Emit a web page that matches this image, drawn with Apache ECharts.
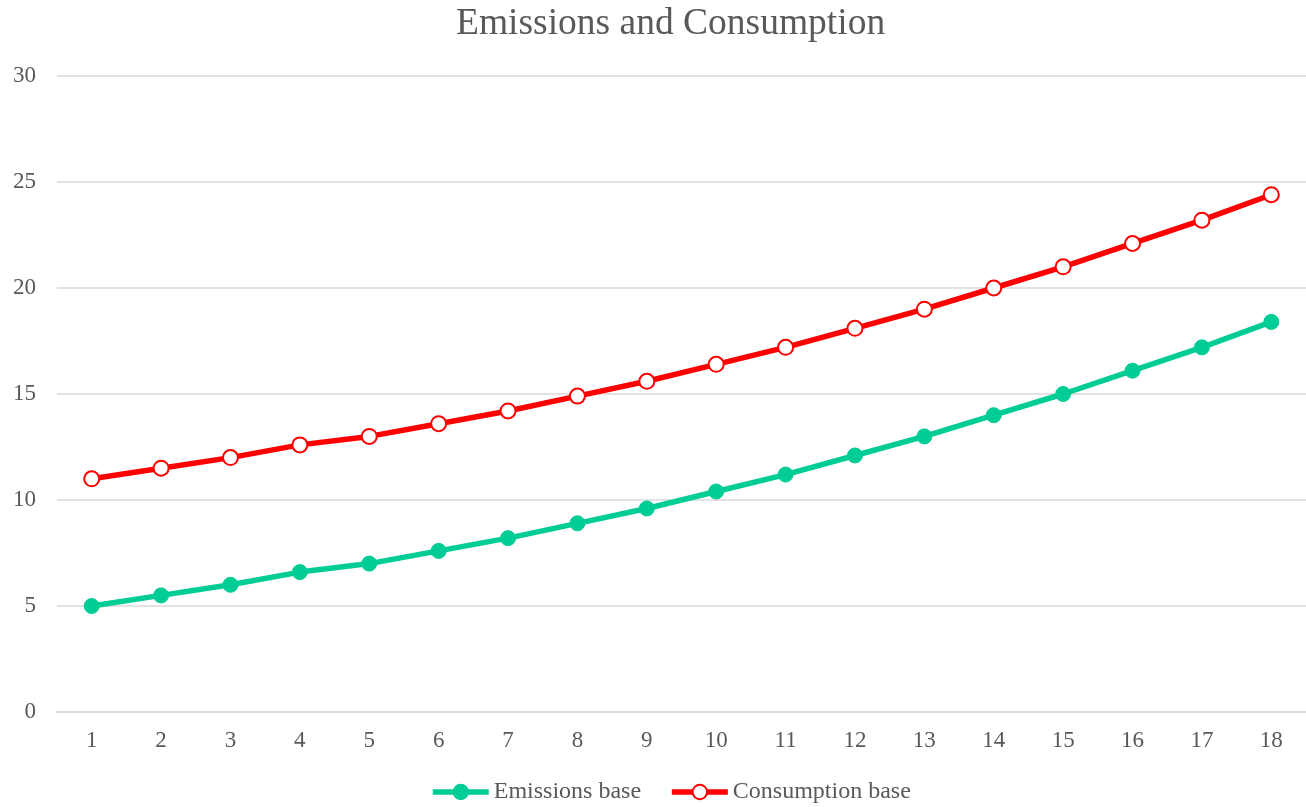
<!DOCTYPE html>
<html><head><meta charset="utf-8">
<script src="https://cdn.jsdelivr.net/npm/echarts@6/dist/echarts.min.js"></script>
<style>html,body{margin:0;padding:0;background:#fff}#c{width:1306px;height:807px}</style>
</head><body><div id="c"></div>
<script>
const categories = ['1','2','3','4','5','6','7','8','9','10','11','12','13','14','15','16','17','18'];
const emissionsBase = [5.0,5.5,6.0,6.6,7.0,7.6,8.2,8.9,9.6,10.4,11.2,12.1,13.0,14.0,15.0,16.1,17.2,18.4];
const consumptionBase = [11.0,11.5,12.0,12.6,13.0,13.6,14.2,14.9,15.6,16.4,17.2,18.1,19.0,20.0,21.0,22.1,23.2,24.4];
const yTicks = {min:0,max:30,interval:5};
const font = '"Liberation Serif","Times New Roman",serif';
const green = '#00CC96', red = '#FF0000';
const chart = echarts.init(document.getElementById('c'), null, {renderer:'canvas'});
chart.setOption({
  backgroundColor:'#fff',
  animation:false,
  title:{text:'Emissions and Consumption',left:451,top:0,textStyle:{fontFamily:font,fontSize:37.5,fontWeight:'normal',color:'#595959'}},
  legend:{bottom:3,left:430,padding:0,itemWidth:56,itemHeight:18,itemGap:28,
    textStyle:{fontFamily:font,fontSize:24,color:'#595959'},
    data:[
      {name:'Emissions base',lineStyle:{width:5.5,color:green},itemStyle:{color:green,borderColor:green}},
      {name:'Consumption base',lineStyle:{width:5.5,color:red},itemStyle:{color:'#fff',borderColor:red,borderWidth:2}}
    ]},
  grid:{left:57,right:0,top:76,bottom:95,containLabel:false},
  xAxis:{type:'category',data:categories,boundaryGap:true,
    axisLine:{show:true,lineStyle:{color:'#d9d9d9',width:1.5}},axisTick:{show:false},
    axisLabel:{fontFamily:font,fontSize:23,color:'#595959',margin:17}},
  yAxis:{type:'value',min:yTicks.min,max:yTicks.max,interval:yTicks.interval,
    axisLine:{show:false},axisTick:{show:false},
    splitLine:{lineStyle:{color:'#d9d9d9',width:1.5}},
    axisLabel:{fontFamily:font,fontSize:23,color:'#595959',margin:21}},
  series:[
    {name:'Emissions base',type:'line',data:emissionsBase,symbol:'circle',symbolSize:15,
      lineStyle:{color:green,width:5.5},itemStyle:{color:green,borderColor:green,borderWidth:1}},
    {name:'Consumption base',type:'line',data:consumptionBase,symbol:'circle',symbolSize:15,
      lineStyle:{color:red,width:5.5},itemStyle:{color:'#ffffff',borderColor:red,borderWidth:2}}
  ]
});
</script></body></html>
